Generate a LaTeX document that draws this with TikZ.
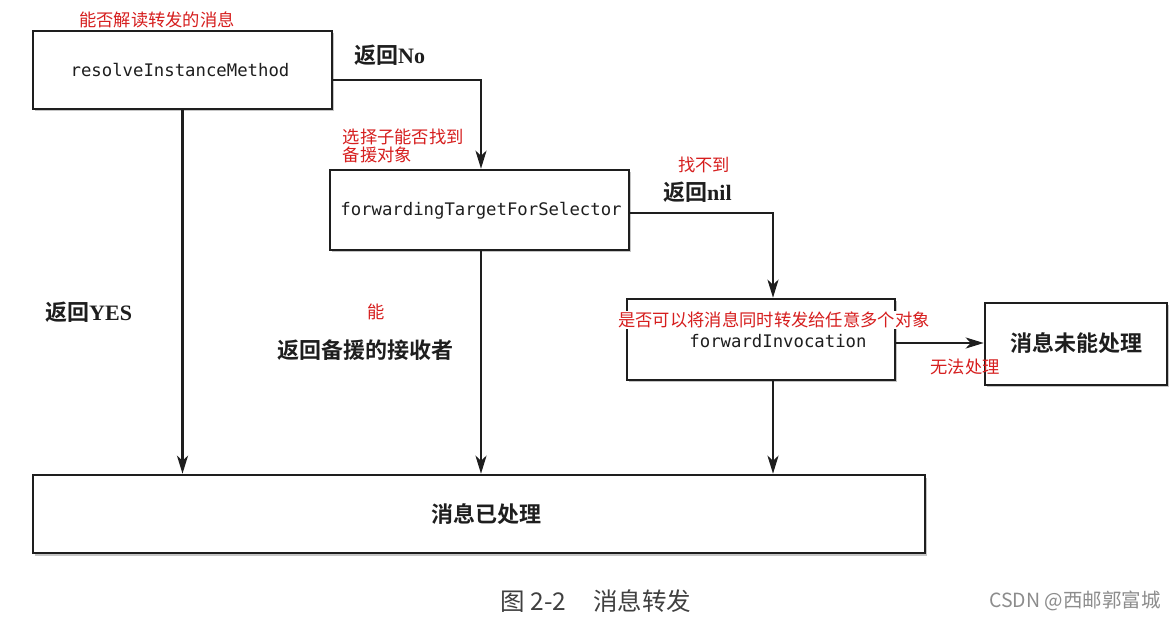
\documentclass[tikz,border=0pt]{standalone}
\usepackage{fontspec}
\usetikzlibrary{arrows.meta,shadows}
\newfontfamily\cjk{Noto Sans CJK SC}[BoldFont={* Bold}]
\newfontfamily\monof{DejaVu Sans Mono}
\newfontfamily\serifb{Liberation Serif}
\definecolor{annot}{RGB}{214,30,30}
\definecolor{ink}{RGB}{30,30,30}
\tikzset{
  box/.style={draw=ink, line width=2.6pt, fill=white, inner sep=0pt,
    drop shadow={shadow xshift=2pt, shadow yshift=-2.5pt, opacity=0.45, fill=gray}},
  mono/.style={font=\monof\fontsize{17.3}{20}\selectfont, text=ink, inner sep=0pt},
  red/.style={font=\cjk\fontsize{17.3}{19}\selectfont, text=annot, fill=white, inner sep=0.5pt},
  bold/.style={font=\cjk\bfseries\fontsize{22}{24}\selectfont, text=ink, inner sep=0pt},
  conn/.style={draw=ink, line width=2.3pt},
  arr/.style={conn, -{Stealth[length=18pt,width=11pt,inset=5pt]}},
}
\begin{document}
\begin{tikzpicture}[x=1pt,y=-1pt]
\useasboundingbox[fill=white] (0,0) rectangle (1176,620);
% boxes
\node[box, minimum width=299pt, minimum height=78pt] (b1) at (182.5,70) {};
\node[box, minimum width=299pt, minimum height=80pt] (b2) at (479.5,210) {};
\node[box, minimum width=268pt, minimum height=81pt] (b3) at (761,339.5) {};
\node[box, minimum width=182pt, minimum height=82pt] (b4) at (1076,344) {};
\node[box, minimum width=892pt, minimum height=78pt] (b5) at (479,514) {};
% box texts
\node[mono] (t1) at (180,70) {resolveInstanceMethod};
\node[mono] (t2) at (481,211) {forwardingTargetForSelector};
\node[mono] (t3) at (778,341) {forwardInvocation};
\node[bold] (t4) at (1076,343) {消息未能处理};
\node[bold] (t5) at (486,514) {消息已处理};
% connectors
\draw[arr] ([yshift=-10pt]b1.east) -| ([xshift=1.5pt]b2.north);
\draw[arr] ([yshift=-3pt]b2.east) -| ([xshift=12pt]b3.north);
\draw[arr] ([yshift=-3.5pt]b3.east) -- (b4.west |- 0,343);
\draw[arr] (b1.south) -- (b1.south |- b5.north);
\draw[arr] ([xshift=1.5pt]b2.south) -- ([xshift=1.5pt]b2.south |- b5.north);
\draw[arr] ([xshift=12pt]b3.south) -- ([xshift=12pt]b3.south |- b5.north);
% black labels
\node[bold, anchor=west] (l1) at (354,55) {返回\serifb\bfseries No};
\node[bold, anchor=west] (l2) at (663,192) {返回\serifb\bfseries nil};
\node[bold, anchor=west] (l3) at (45,312) {返回\serifb\bfseries YES};
\node[bold, anchor=west] (l4) at (277,350) {返回备援的接收者};
% red annotations
\node[red] (r1) at (157,20) {能否解读转发的消息};
\node[red, anchor=north west, align=left, font=\cjk\fontsize{17.3}{18.5}\selectfont] (r2) at (342,128) {选择子能否找到\\备援对象};
\node[red] (r3) at (704,165) {找不到};
\node[red, fill=none] (r4) at (376,312) {能};
\node[red] (r5) at (774,320) {是否可以将消息同时转发给任意多个对象};
\node[red, fill=none] (r6) at (965,367) {无法处理};
% caption
\node[font=\cjk\fontsize{24.5}{27}\selectfont, text=ink!85] (cap) at (596,601) {图 2-2\hspace{1.1em}消息转发};
\node[font=\cjk\fontsize{19.5}{21}\selectfont, text=gray!90, anchor=west, inner sep=0pt] (wm) at (989,601) {CSDN @西邮郭富城};
\end{tikzpicture}
\end{document}
